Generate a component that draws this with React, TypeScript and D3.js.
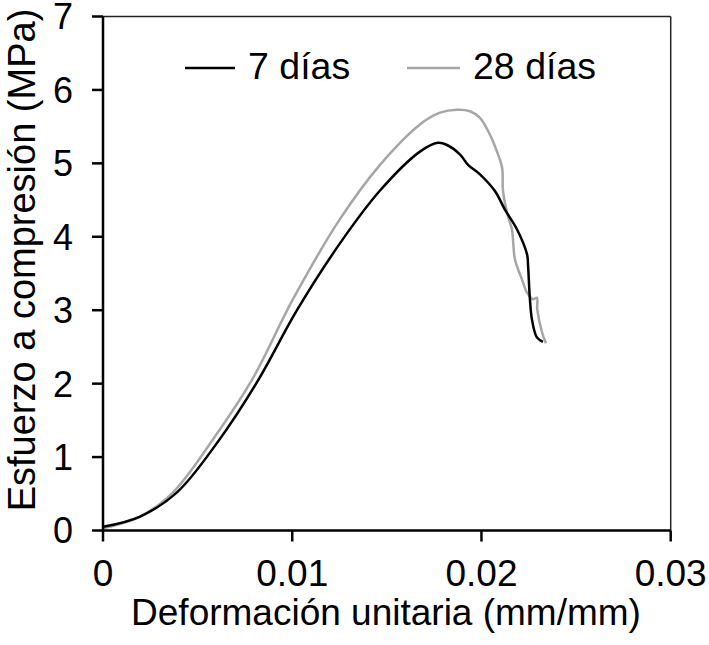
import React from "react";
import * as d3 from "d3";

const xTicks = [0, 0.01, 0.02, 0.03];
const yTicks = [0, 1, 2, 3, 4, 5, 6, 7];
const xTickLabels = ["0", "0.01", "0.02", "0.03"];
const yTickLabels = ["0", "1", "2", "3", "4", "5", "6", "7"];

const seriesNames = ["7 días", "28 días"];
const seriesColors = ["#000000", "#a6a6a6"];

const strain7 = [0, 0.00196, 0.00391, 0.00602, 0.00814, 0.01025, 0.01252, 0.01464, 0.01675, 0.0177, 0.01818, 0.01887, 0.01929, 0.01992, 0.02072, 0.02124, 0.02188, 0.02241, 0.02246, 0.02256, 0.02267, 0.02293, 0.02325];
const stress7 = [0.05, 0.19, 0.52, 1.19, 2.02, 3.0, 3.91, 4.63, 5.16, 5.28, 5.25, 5.12, 4.98, 4.85, 4.62, 4.37, 4.1, 3.76, 3.62, 3.15, 2.87, 2.63, 2.57];

const strain28 = [0, 0.00196, 0.0037, 0.00581, 0.00787, 0.01004, 0.01252, 0.01464, 0.01675, 0.01781, 0.01871, 0.01939, 0.01992, 0.02045, 0.02082, 0.02109, 0.02114, 0.0214, 0.02161, 0.02177, 0.02214, 0.02241, 0.02272, 0.02293, 0.02295, 0.0232, 0.02341];
const stress28 = [0.03, 0.19, 0.52, 1.24, 2.05, 3.15, 4.24, 4.98, 5.53, 5.69, 5.73, 5.71, 5.62, 5.39, 5.16, 4.94, 4.62, 4.28, 4.1, 3.69, 3.42, 3.24, 3.15, 3.17, 3.01, 2.7, 2.55];

const W = 709;
const H = 645;
const left = 103;
const right = 670.7;
const top = 16.5;
const bottom = 530.5;
const FONT = "Liberation Sans, Arial, sans-serif";

export default function App() {
  const x = d3.scaleLinear().domain([0, 0.03]).range([left, right]);
  const y = d3.scaleLinear().domain([0, 7]).range([bottom, top]);
  const line = d3
    .line<[number, number]>()
    .x((d) => x(d[0]))
    .y((d) => y(d[1]))
    .curve(d3.curveCatmullRom.alpha(0.5));

  const s7: [number, number][] = strain7.map((v, i) => [v, stress7[i]]);
  const s28: [number, number][] = strain28.map((v, i) => [v, stress28[i]]);

  return (
    <svg
      width={W}
      height={H}
      style={{ position: "absolute", left: 0, top: 0, background: "#fff" }}
      fontFamily={FONT}
    >
      <rect x={0} y={0} width={W} height={H} fill="#fff" />
      <line x1={left} x2={right} y1={top} y2={top} stroke="#222" strokeWidth={1.5} />
      <line x1={right} x2={right} y1={top} y2={bottom} stroke="#222" strokeWidth={1.5} />
      <path d={line(s28) || ""} fill="none" stroke={seriesColors[1]} strokeWidth={2.5} strokeLinejoin="round" />
      <path d={line(s7) || ""} fill="none" stroke={seriesColors[0]} strokeWidth={2.5} strokeLinejoin="round" />
      <line x1={left} x2={left} y1={top} y2={bottom} stroke="#000" strokeWidth={2.5} />
      <line x1={left} x2={right} y1={bottom} y2={bottom} stroke="#000" strokeWidth={2.5} />
      {yTicks.map((t, i) => (
        <g key={"y" + i}>
          <line x1={left - 11} x2={left} y1={y(t)} y2={y(t)} stroke="#000" strokeWidth={2.5} />
          <text x={73} y={y(t)} dy="0.36em" textAnchor="end" fontSize={36} fill="#000">
            {yTickLabels[i]}
          </text>
        </g>
      ))}
      {xTicks.map((t, i) => (
        <g key={"x" + i}>
          <line x1={x(t)} x2={x(t)} y1={bottom} y2={bottom + 11} stroke="#000" strokeWidth={2.5} />
          <text x={x(t)} y={586} textAnchor="middle" fontSize={37} fill="#000">
            {xTickLabels[i]}
          </text>
        </g>
      ))}
      <text x={386} y={625} textAnchor="middle" fontSize={37} fill="#000">
        Deformación unitaria (mm/mm)
      </text>
      <text
        transform={`translate(35,260) rotate(-90)`}
        textAnchor="middle"
        fontSize={38}
        fill="#000"
      >
        Esfuerzo a compresión (MPa)
      </text>
      <line x1={185} x2={235} y1={68} y2={68} stroke={seriesColors[0]} strokeWidth={2.5} />
      <text x={248} y={79} fontSize={37.5} fill="#000">
        {seriesNames[0]}
      </text>
      <line x1={407} x2={460} y1={68} y2={68} stroke={seriesColors[1]} strokeWidth={2.5} />
      <text x={473} y={79} fontSize={37.5} fill="#000">
        {seriesNames[1]}
      </text>
    </svg>
  );
}
